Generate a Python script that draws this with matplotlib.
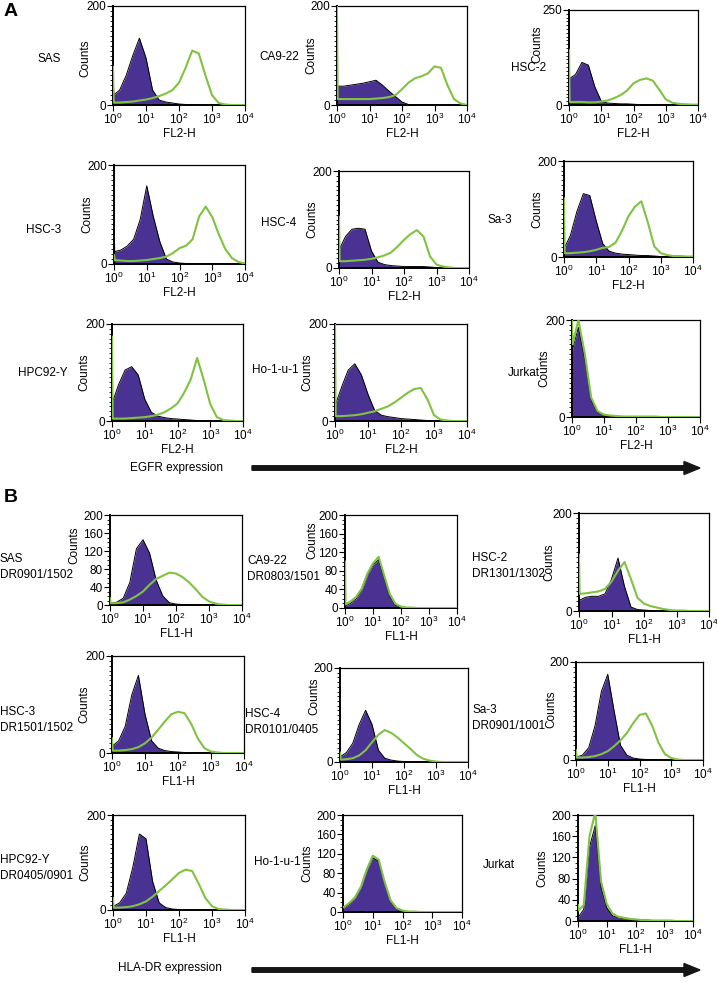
import numpy as np
import matplotlib
matplotlib.use('Agg')
import matplotlib.pyplot as plt
from matplotlib.ticker import FixedLocator, LogLocator, NullFormatter, FixedFormatter, MultipleLocator
from matplotlib.patches import FancyArrow

plt.rcParams['font.family'] = ['Liberation Sans', 'DejaVu Sans']
plt.rcParams['mathtext.fontset'] = 'custom'
plt.rcParams['mathtext.rm'] = 'Liberation Sans'
plt.rcParams['mathtext.it'] = 'Liberation Sans:italic'
plt.rcParams['mathtext.bf'] = 'Liberation Sans:bold'

W, H = 717, 982
PURPLE = '#4a3292'
GREEN = '#80c241'

logx = [0, 0.02, 0.2, 0.4, 0.6, 0.8, 1.0, 1.2, 1.4, 1.6, 1.8, 2.0,
        2.2, 2.4, 2.6, 2.8, 3.0, 3.2, 3.4, 3.6, 3.8, 4.0]

# ---- A: EGFR (FL2-H), iso = control (filled), ab = antibody (green)
egfr_sas_iso = [110, 20, 30, 60, 100, 135, 95, 30, 10, 6, 4, 2, 1, 0, 0, 0, 0, 0, 0, 0, 0, 0]
egfr_sas_ab = [77, 5, 5, 6, 7, 9, 11, 14, 18, 23, 30, 45, 75, 110, 104, 60, 20, 4, 1, 0, 0, 0]
egfr_ca922_iso = [47, 38, 38, 40, 42, 44, 47, 50, 40, 28, 17, 6, 1, 0, 0, 0, 0, 0, 0, 0, 0, 0]
egfr_ca922_ab = [200, 12, 12, 12, 12, 12, 12, 13, 14, 16, 20, 32, 45, 54, 58, 64, 78, 75, 40, 12, 3, 0]
egfr_hsc2_iso = [75, 70, 80, 112, 105, 48, 10, 5, 4, 3, 3, 2, 1, 1, 0, 0, 0, 0, 0, 0, 0, 0]
egfr_hsc2_ab = [145, 8, 8, 8, 7, 7, 9, 12, 18, 26, 38, 57, 66, 70, 64, 40, 15, 6, 3, 2, 1, 1]
egfr_hsc3_iso = [112, 25, 28, 36, 50, 90, 158, 96, 45, 10, 4, 2, 1, 0, 0, 0, 0, 0, 0, 0, 0, 0]
egfr_hsc3_ab = [18, 8, 7, 6, 6, 7, 8, 10, 12, 15, 22, 32, 37, 50, 96, 116, 95, 60, 30, 12, 4, 1]
egfr_hsc4_iso = [30, 40, 65, 80, 82, 80, 35, 12, 7, 5, 4, 3, 3, 3, 3, 2, 1, 0, 0, 0, 0, 0]
egfr_hsc4_ab = [106, 14, 14, 15, 16, 17, 19, 22, 26, 32, 44, 58, 70, 78, 65, 24, 7, 3, 1, 0, 0, 0]
egfr_sa3_iso = [15, 20, 45, 95, 132, 128, 75, 28, 12, 8, 6, 5, 4, 3, 3, 2, 1, 1, 0, 0, 0, 0]
egfr_sa3_ab = [122, 8, 8, 9, 10, 12, 15, 19, 21, 30, 55, 85, 105, 116, 72, 22, 8, 4, 2, 2, 1, 1]
egfr_hpc_iso = [20, 40, 75, 105, 112, 95, 45, 18, 10, 7, 5, 4, 3, 2, 1, 0, 0, 0, 0, 0, 0, 0]
egfr_hpc_ab = [174, 5, 5, 5, 6, 7, 8, 10, 13, 18, 26, 36, 58, 85, 130, 85, 35, 8, 2, 1, 0, 0]
egfr_ho1_iso = [30, 35, 70, 105, 118, 95, 55, 22, 12, 9, 7, 5, 4, 3, 2, 1, 0, 0, 0, 0, 0, 0]
egfr_ho1_ab = [200, 10, 10, 11, 12, 14, 17, 20, 25, 30, 38, 48, 58, 66, 68, 45, 12, 3, 1, 0, 0, 0]
egfr_jurkat_iso = [120, 140, 185, 120, 35, 10, 4, 2, 1, 1, 0, 0, 0, 0, 0, 0, 0, 0, 0, 0, 0, 0]
egfr_jurkat_ab = [200, 150, 200, 130, 40, 12, 5, 3, 2, 1, 1, 1, 1, 1, 1, 0, 0, 0, 0, 0, 0, 0]

# ---- B: HLA-DR (FL1-H)
hla_sas_iso = [5, 4, 6, 15, 50, 125, 145, 115, 55, 20, 5, 2, 1, 0, 0, 0, 0, 0, 0, 0, 0, 0]
hla_sas_ab = [15, 4, 4, 6, 12, 20, 30, 45, 58, 65, 72, 70, 62, 50, 35, 18, 8, 3, 1, 0, 0, 0]
hla_ca922_iso = [5, 5, 10, 20, 38, 70, 92, 104, 65, 25, 6, 2, 1, 0, 0, 0, 0, 0, 0, 0, 0, 0]
hla_ca922_ab = [100, 8, 14, 24, 42, 74, 96, 110, 70, 30, 9, 3, 1, 1, 0, 0, 0, 0, 0, 0, 0, 0]
hla_hsc2_iso = [20, 22, 28, 30, 30, 35, 65, 108, 50, 8, 3, 2, 1, 0, 0, 0, 0, 0, 0, 0, 0, 0]
hla_hsc2_ab = [115, 35, 36, 38, 40, 45, 60, 82, 100, 65, 27, 15, 10, 7, 4, 2, 1, 1, 0, 0, 0, 0]
hla_hsc3_iso = [20, 15, 25, 55, 120, 160, 80, 25, 10, 5, 3, 2, 1, 0, 0, 0, 0, 0, 0, 0, 0, 0]
hla_hsc3_ab = [30, 5, 5, 6, 8, 12, 20, 32, 48, 65, 80, 85, 82, 60, 30, 10, 3, 1, 0, 0, 0, 0]
hla_hsc4_iso = [15, 12, 20, 40, 80, 110, 80, 25, 8, 4, 2, 1, 0, 0, 0, 0, 0, 0, 0, 0, 0, 0]
hla_hsc4_ab = [20, 5, 6, 8, 14, 25, 42, 58, 68, 62, 52, 40, 28, 15, 7, 3, 1, 0, 0, 0, 0, 0]
hla_sa3_iso = [8, 6, 10, 25, 70, 140, 175, 100, 30, 10, 4, 2, 1, 0, 0, 0, 0, 0, 0, 0, 0, 0]
hla_sa3_ab = [20, 5, 5, 6, 8, 12, 18, 28, 40, 55, 75, 92, 95, 70, 35, 12, 4, 1, 0, 0, 0, 0]
hla_hpc_iso = [10, 8, 15, 35, 90, 160, 150, 60, 15, 5, 2, 1, 0, 0, 0, 0, 0, 0, 0, 0, 0, 0]
hla_hpc_ab = [25, 5, 5, 6, 8, 12, 18, 28, 40, 52, 65, 78, 85, 82, 55, 25, 8, 2, 1, 0, 0, 0]
hla_ho1_iso = [8, 8, 15, 28, 50, 85, 112, 105, 60, 22, 6, 2, 1, 0, 0, 0, 0, 0, 0, 0, 0, 0]
hla_ho1_ab = [10, 10, 18, 30, 52, 88, 116, 108, 62, 24, 8, 3, 1, 1, 0, 0, 0, 0, 0, 0, 0, 0]
hla_jurkat_iso = [5, 8, 22, 140, 180, 65, 25, 10, 6, 4, 3, 2, 2, 1, 1, 0, 0, 0, 0, 0, 0, 0]
hla_jurkat_ab = [30, 20, 30, 160, 205, 75, 32, 14, 8, 6, 4, 3, 2, 2, 1, 1, 1, 1, 0, 0, 0, 0]

egfr_names = ['SAS', 'CA9-22', 'HSC-2', 'HSC-3', 'HSC-4', 'Sa-3', 'HPC92-Y', 'Ho-1-u-1', 'Jurkat']
hla_names = ['SAS', 'CA9-22', 'HSC-2', 'HSC-3', 'HSC-4', 'Sa-3', 'HPC92-Y', 'Ho-1-u-1', 'Jurkat']
hla_alleles = ['DR0901/1502', 'DR0803/1501', 'DR1301/1302', 'DR1501/1502', 'DR0101/0405',
               'DR0901/1001', 'DR0405/0901', '', '']

egfr_data = [(egfr_sas_iso, egfr_sas_ab), (egfr_ca922_iso, egfr_ca922_ab), (egfr_hsc2_iso, egfr_hsc2_ab),
             (egfr_hsc3_iso, egfr_hsc3_ab), (egfr_hsc4_iso, egfr_hsc4_ab), (egfr_sa3_iso, egfr_sa3_ab),
             (egfr_hpc_iso, egfr_hpc_ab), (egfr_ho1_iso, egfr_ho1_ab), (egfr_jurkat_iso, egfr_jurkat_ab)]
hla_data = [(hla_sas_iso, hla_sas_ab), (hla_ca922_iso, hla_ca922_ab), (hla_hsc2_iso, hla_hsc2_ab),
            (hla_hsc3_iso, hla_hsc3_ab), (hla_hsc4_iso, hla_hsc4_ab), (hla_sa3_iso, hla_sa3_ab),
            (hla_hpc_iso, hla_hpc_ab), (hla_ho1_iso, hla_ho1_ab), (hla_jurkat_iso, hla_jurkat_ab)]

egfr_ymax = [200, 200, 250, 200, 200, 200, 200, 200, 200]
hla_ystep = [40, 40, 200, 200, 200, 200, 200, 40, 40]

# layout in pixels: axes box (left, top, right, bottom), label (x, y),
# and "Counts" placement (right edge offset from axis in px, vertical fraction)
egfr_boxes = [(113, 6, 245, 105), (337, 6, 467, 105), (569, 10, 698, 105),
              (114, 165, 245, 264), (339, 171, 469, 268), (564, 161, 693, 257),
              (112, 324, 243, 421), (335, 324, 467, 421), (572, 320, 700, 417)]
egfr_lab = [(38, 59), (259, 57), (511, 68), (26, 230), (261, 223), (488, 220),
            (18, 373), (252, 370), (508, 373)]
egfr_ylab = [(22, 0.47), (20, 0.5), (26, 0.64), (21, 0.5), (21, 0.5), (21, 0.5),
             (22, 0.5), (22, 0.5), (22, 0.5)]
hla_boxes = [(110, 515, 242, 605), (345, 515, 457, 608), (579, 513, 709, 611),
             (112, 656, 244, 753), (340, 668, 468, 762), (576, 662, 703, 760),
             (113, 815, 245, 910), (343, 815, 462, 912), (578, 815, 693, 921)]
hla_lab = [(0, 559), (247, 561), (472, 558), (0, 712), (245, 714), (472, 710),
           (0, 860), (254, 862), (483, 865)]
hla_ylab = [(30, 0.66), (27, 0.73), (24, 0.5), (22, 0.5), (20, 0.7), (19, 0.52),
            (22, 0.5), (30, 0.5), (30, 0.5)]

fig = plt.figure(figsize=(W / 100, H / 100), dpi=100)
x = 10 ** np.array(logx)


def panel(box, iso, ab, ymax, ystep, xlab, ylab):
    l, t, r, b = box
    ax = fig.add_axes([l / W, 1 - b / H, (r - l) / W, (b - t) / H])
    ax.fill_between(x, iso, color=PURPLE, lw=0, zorder=1)
    ax.plot(x, iso, color='black', lw=0.7, zorder=2)
    ax.plot(x, ab, color=GREEN, lw=1.5, zorder=3)
    ax.set_xscale('log')
    ax.set_xlim(1, 1e4)
    ax.set_ylim(0, ymax)
    ax.xaxis.set_major_locator(FixedLocator([1, 10, 100, 1000, 10000]))
    ax.xaxis.set_major_formatter(FixedFormatter(['10$^{0}$', '10$^{1}$', '10$^{2}$', '10$^{3}$', '10$^{4}$']))
    ax.xaxis.set_minor_locator(LogLocator(base=10, subs=np.arange(2, 10)))
    ax.xaxis.set_minor_formatter(NullFormatter())
    ax.yaxis.set_major_locator(MultipleLocator(ystep))
    ax.yaxis.set_minor_locator(MultipleLocator(10))
    ax.tick_params(which='major', length=4, width=0.8, labelsize=8.5, pad=1.2)
    ax.tick_params(which='minor', length=2, width=0.6)
    ax.set_xlabel(xlab, fontsize=8.5, labelpad=0.5)
    ax.set_ylabel('Counts', fontsize=8.5)
    off, yf = ylab
    ax.yaxis.set_label_coords(-off / (r - l), yf)
    for s in ax.spines.values():
        s.set_linewidth(0.9)
    ax.spines['left'].set_linewidth(1.4)
    ax.spines['bottom'].set_linewidth(1.4)
    return ax


for i in range(9):
    iso, ab = egfr_data[i]
    panel(egfr_boxes[i], iso, ab, egfr_ymax[i], egfr_ymax[i], 'FL2-H', egfr_ylab[i])
    lx, ly = egfr_lab[i]
    fig.text(lx / W, 1 - ly / H, egfr_names[i], fontsize=8.5, ha='left', va='center')

for i in range(9):
    iso, ab = hla_data[i]
    panel(hla_boxes[i], iso, ab, 200, hla_ystep[i], 'FL1-H', hla_ylab[i])
    lx, ly = hla_lab[i]
    fig.text(lx / W, 1 - ly / H, hla_names[i], fontsize=8.5, ha='left', va='center')
    if hla_alleles[i]:
        fig.text(lx / W, 1 - (ly + 16) / H, hla_alleles[i], fontsize=8.5, ha='left', va='center')

fig.text(4 / W, 1 - 12 / H, 'A', fontsize=14, fontweight='bold', ha='left', va='center')
fig.text(4 / W, 1 - 497 / H, 'B', fontsize=14, fontweight='bold', ha='left', va='center')

fig.text(130 / W, 1 - 468 / H, 'EGFR expression', fontsize=8.5, ha='left', va='center')
fig.text(118 / W, 1 - 968 / H, 'HLA-DR expression', fontsize=8.5, ha='left', va='center')

for ya in (468, 970):
    fig.add_artist(FancyArrow(252 / W, 1 - ya / H, 448 / W, 0, width=4.5 / H,
                              head_width=13 / H, head_length=16 / W,
                              length_includes_head=True, color='#151515',
                              transform=fig.transFigure))

fig.savefig('out.png', dpi=100)
